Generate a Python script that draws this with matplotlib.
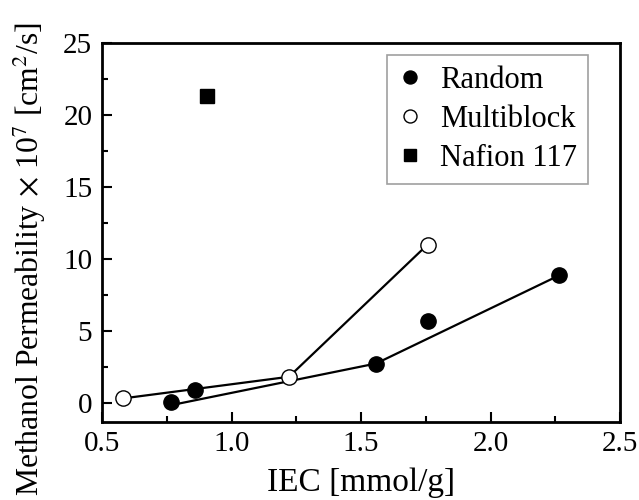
import numpy as np
import matplotlib
matplotlib.use("Agg")
import matplotlib.pyplot as plt
from matplotlib.ticker import MultipleLocator

plt.rcParams['font.family'] = ['Liberation Serif', 'DejaVu Serif']
plt.rcParams['mathtext.fontset'] = 'stix'

# data
random_iec = [0.767, 0.861, 1.558, 1.757, 2.266]
random_perm = [0.09, 0.90, 2.74, 5.69, 8.87]
multi_iec = [0.582, 1.222, 1.757]
multi_perm = [0.32, 1.82, 11.0]
nafion_iec = [0.907]
nafion_perm = [21.35]

# trend line drawn through the random copolymers
random_fit_iec = [0.767, 1.558, 2.266]
random_fit_perm = [-0.15, 2.74, 8.87]

fig = plt.figure(figsize=(6.39, 5.0), dpi=100)
ax = fig.add_axes([102/639, 1-421.7/500, 518/639, (421.7-43)/500])

ax.plot(random_fit_iec, random_fit_perm, color='black', lw=1.6, zorder=2)
ax.plot(multi_iec, multi_perm, color='black', lw=1.6, zorder=2)

ax.plot(random_iec, random_perm, 'o', ms=11, mfc='black', mec='black',
        label='Random', zorder=3)
ax.plot(multi_iec, multi_perm, 'o', ms=11, mfc='white', mec='black', mew=1.0,
        label='Multiblock', zorder=3)
ax.plot(nafion_iec, nafion_perm, 's', ms=10, mfc='black', mec='black',
        label='Nafion 117', zorder=3)

ax.set_xlim(0.5, 2.5)
ax.set_ylim(-1.3, 25)
ax.xaxis.set_major_locator(MultipleLocator(0.5))
ax.xaxis.set_minor_locator(MultipleLocator(0.25))
ax.yaxis.set_major_locator(MultipleLocator(5))
ax.yaxis.set_minor_locator(MultipleLocator(2.5))
ax.xaxis.set_major_formatter(plt.FuncFormatter(lambda v, p: '%.1f' % v))

ax.tick_params(which='both', direction='in', top=False, right=False,
               labelsize=21, width=1.5)
ax.tick_params(which='major', length=7, pad=7)
ax.tick_params(which='minor', length=4)
for s in ax.spines.values():
    s.set_linewidth(2.0)

ax.set_xlabel('IEC [mmol/g]', fontsize=24, labelpad=7)
ax.set_ylabel('Methanol Permeability$\\,\\times\\,$10$^7$ [cm$^2$/s]',
              fontsize=22.8)
# label sits a bit below the axes centre in the original
ax.yaxis.set_label_coords(-0.104, 0.43)

leg = ax.legend(loc='upper right', bbox_to_anchor=(588/639, 1-55/500),
                bbox_transform=fig.transFigure, fontsize=22, frameon=True,
                fancybox=False, edgecolor='#888888', markerscale=0.85,
                handlelength=0.8, handletextpad=0.6, labelspacing=0.33,
                borderpad=0.35, borderaxespad=0)
leg.get_frame().set_linewidth(1.2)

fig.savefig('out.png', dpi=100)
